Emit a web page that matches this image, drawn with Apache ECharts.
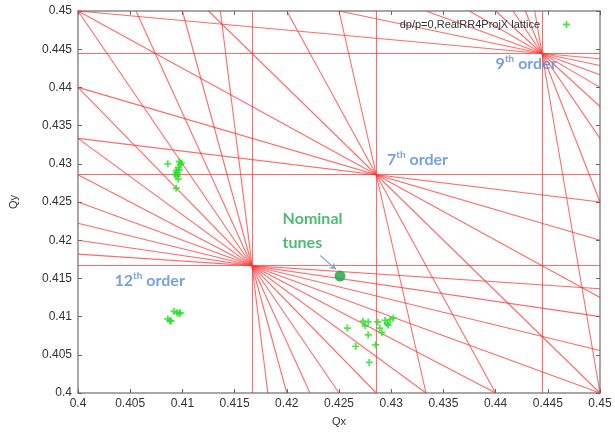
<!DOCTYPE html>
<html><head><meta charset="utf-8">
<script src="https://cdn.jsdelivr.net/npm/echarts@6/dist/echarts.min.js"></script>
<style>html,body{margin:0;padding:0;background:#fff}#c{width:615px;height:432px}</style>
</head><body><div id="c"></div>
<script>
// Axis range
const axisMin = 0.4, axisMax = 0.45, axisStep = 0.005;
// Resonance families: m*Qx + n*Qy = p with m+n = order
const resonanceOrders = [12, 7, 9];
const resonanceIntegers = [5, 3, 4];
// Tracked tunes (dp/p=0, RealRR4ProjX lattice)
const tunesQx = [0.4086, 0.4097, 0.4098, 0.4096, 0.4094, 0.4095, 0.4093, 0.4095, 0.4096, 0.4094, 0.4097, 0.4099,
                 0.4086, 0.4088, 0.4089, 0.4092, 0.4095, 0.4097, 0.4098,
                 0.4258, 0.4275, 0.4278, 0.4278, 0.4285, 0.4266, 0.4279, 0.4287, 0.4289, 0.4291, 0.4294, 0.4296, 0.4299, 0.4302, 0.4297, 0.4273];
const tunesQy = [0.4300, 0.4303, 0.4299, 0.4295, 0.4291, 0.4288, 0.4286, 0.4284, 0.4280, 0.4268, 0.4292, 0.4301,
                 0.4097, 0.4095, 0.4094, 0.4107, 0.4105, 0.4104, 0.4105,
                 0.4085, 0.4088, 0.4093, 0.4076, 0.4063, 0.4061, 0.4040, 0.4093, 0.4085, 0.4079, 0.4095, 0.4091, 0.4096, 0.4098, 0.4089, 0.4094];
const nominalTune = [0.4251, 0.4153];
// Annotation anchors
const labelNames = ['12', '7', '9'];
const labelQx = [0.4035, 0.4296, 0.4400];
const labelQy = [0.4148, 0.4306, 0.4432];
const nominalLabelPos = [0.4196, 0.4212];
const arrowFrom = [0.4232, 0.4180];
const arrowTo = [0.4247, 0.4162];

function segment(m, n, p) {
  const pts = [];
  const eps = 1e-12;
  if (n !== 0) for (const x of [axisMin, axisMax]) { const y = (p - m * x) / n; if (y >= axisMin - eps && y <= axisMax + eps) pts.push([x, y]); }
  if (m !== 0) for (const y of [axisMin, axisMax]) { const x = (p - n * y) / m; if (x >= axisMin - eps && x <= axisMax + eps) pts.push([x, y]); }
  pts.sort((a, b) => a[0] - b[0] || a[1] - b[1]);
  return [pts[0], pts[pts.length - 1]];
}
const resonanceLines = [];
resonanceOrders.forEach((N, k) => {
  for (let m = 0; m <= N; m++) resonanceLines.push({ coords: segment(m, N - m, resonanceIntegers[k]) });
});
const tunes = tunesQx.map((x, i) => [x, tunesQy[i]]);
const plus = 'path://M2.6,0H4.4V2.6H7V4.4H4.4V7H2.6V4.4H0V2.6H2.6Z';
const fmt = v => String(parseFloat(v.toFixed(3)));
const axisCommon = {
  type: 'value', min: axisMin, max: axisMax, interval: axisStep,
  axisLine: { show: true, onZero: false, lineStyle: { color: '#8a8a8a', width: 1.5 } },
  axisTick: { show: true, inside: true, length: 4, lineStyle: { color: '#666' } },
  splitLine: { show: false },
  axisLabel: { color: '#333', fontFamily: 'Liberation Sans, Arial', fontSize: 12, formatter: fmt }
};
const chart = echarts.init(document.getElementById('c'), null, { renderer: 'canvas' });
chart.setOption({
  animation: false,
  backgroundColor: '#fff',
  grid: { left: 78, top: 11, right: 15, bottom: 37, containLabel: false },
  legend: {
    data: ['dp/p=0,RealRR4ProjX lattice'], right: 40, top: 14, align: 'right',
    itemWidth: 7, itemHeight: 7,
    textStyle: { color: '#333', fontFamily: 'Liberation Sans, Arial', fontSize: 11, padding: [0, 18, 0, 0] }
  },
  xAxis: [
    Object.assign({}, axisCommon, { position: 'bottom', name: 'Qx', nameLocation: 'middle', nameGap: 23,
      nameTextStyle: { color: '#333', fontFamily: 'Liberation Sans, Arial', fontSize: 11 },
      axisLabel: Object.assign({}, axisCommon.axisLabel, { margin: 5 }) }),
    Object.assign({}, axisCommon, { position: 'top', axisLabel: { show: false } })
  ],
  yAxis: [
    Object.assign({}, axisCommon, { position: 'left', name: 'Qy', nameLocation: 'middle', nameGap: 59, nameRotate: 90,
      nameTextStyle: { color: '#333', fontFamily: 'Liberation Sans, Arial', fontSize: 11 },
      axisLabel: Object.assign({}, axisCommon.axisLabel, { margin: 6 }) }),
    Object.assign({}, axisCommon, { position: 'right', axisLabel: { show: false } })
  ],
  series: [
    { type: 'lines', coordinateSystem: 'cartesian2d', silent: true, clip: true, z: 1,
      lineStyle: { color: '#ff3030', width: 1.1, opacity: 0.72 }, data: resonanceLines },
    { name: 'dp/p=0,RealRR4ProjX lattice', type: 'scatter', symbol: plus, symbolSize: 7, z: 3,
      itemStyle: { color: '#22e022' }, data: tunes },
    { type: 'scatter', symbol: 'circle', symbolSize: 11, z: 4, itemStyle: { color: '#12a43c' }, data: [nominalTune] },
    { type: 'lines', coordinateSystem: 'cartesian2d', silent: true, z: 4,
      symbol: ['none', 'arrow'], symbolSize: 6,
      lineStyle: { color: '#8aa6d6', width: 1.2, opacity: 1 }, data: [{ coords: [arrowFrom, arrowTo] }] },
    { type: 'scatter', symbolSize: 0, silent: true, z: 5,
      data: labelNames.map((t, i) => ({ value: [labelQx[i], labelQy[i]], name: t })),
      label: { show: true, position: [0, 0], align: 'left', verticalAlign: 'middle',
        formatter: p => '{b|' + p.name + '}{s|th}{b| order}',
        rich: {
          b: { fontFamily: 'Lato', fontWeight: 'bold', fontSize: 16, color: '#5689d4', verticalAlign: 'bottom', lineHeight: 18 },
          s: { fontFamily: 'Lato', fontWeight: 'bold', fontSize: 10, color: '#5689d4', verticalAlign: 'top', lineHeight: 18 }
        } } },
    { type: 'scatter', symbolSize: 0, silent: true, z: 5, data: [nominalLabelPos],
      label: { show: true, position: [0, 0], align: 'left', verticalAlign: 'middle',
        formatter: 'Nominal\ntunes', fontFamily: 'Lato', fontWeight: 'bold', fontSize: 16, lineHeight: 24, color: '#22aa50' } }
  ]
});
</script></body></html>
